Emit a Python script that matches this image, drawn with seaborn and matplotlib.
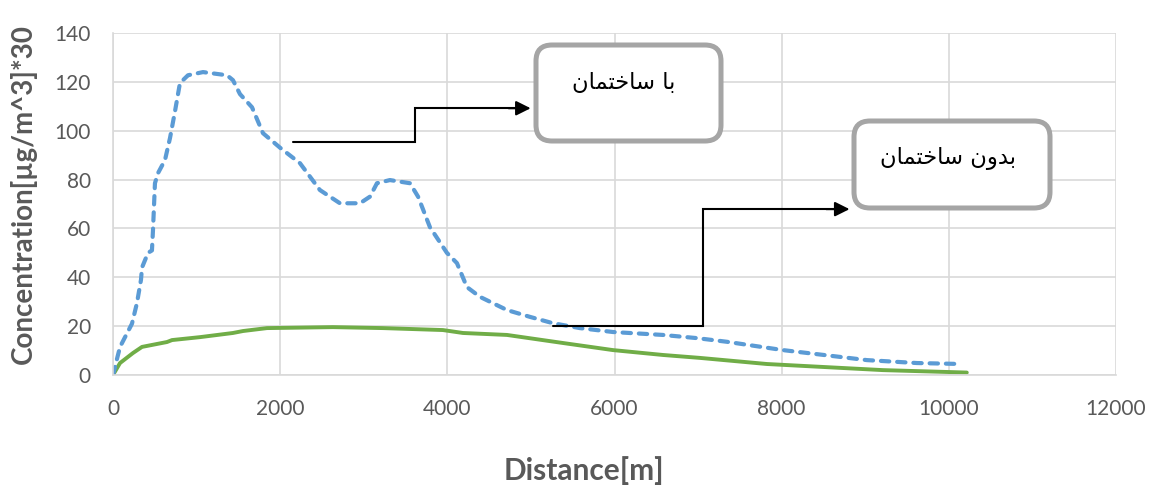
import matplotlib
matplotlib.use("Agg")
import matplotlib.pyplot as plt
import seaborn as sns
import pandas as pd
from matplotlib.patches import FancyBboxPatch

# ---- data ----
with_x = [0, 36, 84, 227, 287, 335, 347, 419, 466, 478, 502, 538, 622, 682, 742, 801, 897,
          1077, 1364, 1435, 1519, 1663, 1794, 2000, 2237, 2476, 2715, 2955, 3074, 3158, 3313,
          3553, 3650, 3792, 3995, 4115, 4234, 4390, 4713, 4988, 5263, 5586, 5981, 6579, 6986,
          7344, 8014, 9019, 9617, 10156]
with_y = [0, 5, 11.5, 21, 29.5, 39, 44, 50, 51, 59, 78.5, 82.6, 88, 97, 108, 119.5, 122.7,
          124, 122.7, 120.7, 115, 109.6, 99, 93, 86.7, 75.7, 70.3, 70.3, 73, 78.5, 79.8,
          78.5, 73, 60.5, 50, 45.8, 36, 32, 26.6, 23.8, 21.2, 19.2, 17.6, 16.4, 15.1,
          13.6, 10.2, 6.1, 4.9, 4.5]
without_x = [0, 84, 239, 347, 466, 646, 706, 1041, 1435, 1555, 1842, 2632, 3230, 3947, 4187,
             4713, 5383, 5981, 6579, 7022, 7823, 9211, 10215]
without_y = [0, 4.9, 9, 11.5, 12.3, 13.5, 14.3, 15.5, 17.2, 18, 19.2, 19.6, 19.2, 18.4, 17.2,
             16.4, 13.1, 10.2, 8.2, 7, 4.5, 2, 1]
x_ticks = [0, 2000, 4000, 6000, 8000, 10000, 12000]
y_ticks = [0, 20, 40, 60, 80, 100, 120, 140]
label_with = "\uFEE5\uFE8E\uFEE4\uFE98\uFEA7\uFE8E\uFEB3 \uFE8E\uFE91"          # با ساختمان
label_without = "\uFEE5\uFE8E\uFEE4\uFE98\uFEA7\uFE8E\uFEB3 \uFEE5\uFEED\uFEAA\uFE91"  # بدون ساختمان
x_label = "Distance[m]"
y_label = "Concentration[µg/m^3]*30"

sns.set_theme(style="white")
plt.rcParams['font.family'] = ['Lato', 'DejaVu Sans']

df_with = pd.DataFrame({"x": with_x, "y": with_y})
df_without = pd.DataFrame({"x": without_x, "y": without_y})

W, H = 1152, 487
fig = plt.figure(figsize=(W / 100, H / 100), dpi=100)
ax = fig.add_axes([113 / W, 1 - 375 / H, 1003 / W, 342 / H])

sns.lineplot(data=df_without, x="x", y="y", ax=ax, color="#70ad47", linewidth=2.8)
sns.lineplot(data=df_with, x="x", y="y", ax=ax, color="#5b9bd5", linewidth=3.0,
             linestyle=(0, (2.0, 1.9)), dash_capstyle="round")

ax.set_xlim(0, 12000)
ax.set_ylim(0, 140)
ax.set_xticks(x_ticks)
ax.set_yticks(y_ticks)
ax.grid(True, color="#d9d9d9", linewidth=1.2)
ax.set_axisbelow(True)
for s in ["top", "right"]:
    ax.spines[s].set_visible(False)
for s in ["left", "bottom"]:
    ax.spines[s].set_color("#d9d9d9")
    ax.spines[s].set_linewidth(1.2)
ax.tick_params(axis="x", length=5, color="#d9d9d9", labelsize=15, labelcolor="#595959", pad=12)
ax.tick_params(axis="y", length=0, labelsize=15, labelcolor="#595959", pad=16)
ax.set_xlabel(x_label, fontsize=21.5, fontweight="bold", color="#595959")
ax.set_ylabel(y_label, fontsize=20, fontweight="bold", color="#595959")
ax.xaxis.set_label_coords(0.47, -0.28)
ax.yaxis.set_label_coords(-0.089, 0.529)
ax.xaxis.label.set_va("center")
ax.yaxis.label.set_va("center")

# connector lines + arrows
ax.plot([2153, 3612, 3612, 4900], [95.3, 95.3, 109.2, 109.2], color="black", lw=1.5,
        solid_joinstyle="miter")
ax.annotate("", xy=(5030, 109.2), xytext=(4700, 109.2),
            arrowprops=dict(arrowstyle="-|>", color="black", lw=1.5, mutation_scale=22))
ax.plot([5263, 7057, 7057, 8700], [20.1, 20.1, 67.9, 67.9], color="black", lw=1.5,
        solid_joinstyle="miter")
ax.annotate("", xy=(8845, 67.9), xytext=(8500, 67.9),
            arrowprops=dict(arrowstyle="-|>", color="black", lw=1.5, mutation_scale=22))

# rounded boxes (pixel coords of the reference)
for (l, t, r, b, txt, tx, ty) in [
        (536, 45, 721, 141, label_with, 624, 82),
        (854, 121, 1050, 208, label_without, 948, 158)]:
    box = FancyBboxPatch((l / W, 1 - b / H), (r - l) / W, (b - t) / H,
                         boxstyle="round,pad=0,rounding_size=%f" % (16 / W),
                         mutation_aspect=W / H,
                         transform=fig.transFigure, facecolor="white", edgecolor="#a5a5a5",
                         linewidth=3.6, zorder=5)
    fig.add_artist(box)
    fig.text(tx / W, 1 - ty / H, txt, ha="center", va="center", fontsize=16.3,
             color="black", family=["DejaVu Sans"], zorder=6)

fig.savefig("out.png", dpi=100)
